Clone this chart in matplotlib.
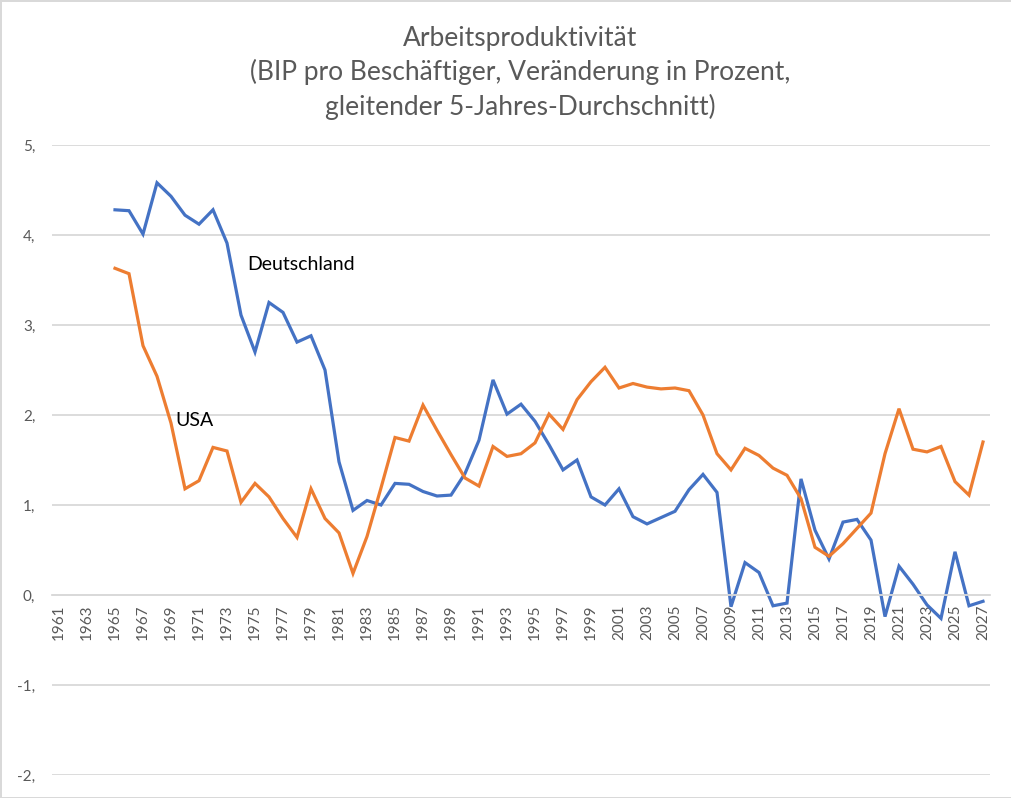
import numpy as np
import matplotlib.pyplot as plt

years = list(range(1961, 2028))
data_years = list(range(1965, 2028))

deutschland = [4.28, 4.27, 4.01, 4.58, 4.43, 4.22, 4.12, 4.28, 3.91, 3.11,
               2.70, 3.25, 3.14, 2.81, 2.88, 2.50, 1.48, 0.94, 1.05, 1.00,
               1.24, 1.23, 1.15, 1.10, 1.11, 1.35, 1.72, 2.39, 2.01, 2.12,
               1.93, 1.67, 1.39, 1.50, 1.09, 1.00, 1.18, 0.87, 0.79, 0.86,
               0.93, 1.17, 1.34, 1.14, -0.13, 0.36, 0.25, -0.12, -0.09, 1.29,
               0.72, 0.40, 0.81, 0.84, 0.61, -0.24, 0.32, 0.12, -0.11, -0.26,
               0.48, -0.12, -0.07]

usa = [3.63, 3.57, 2.77, 2.43, 1.91, 1.18, 1.27, 1.64, 1.60, 1.03,
       1.24, 1.09, 0.85, 0.64, 1.18, 0.85, 0.69, 0.24, 0.65, 1.19,
       1.75, 1.71, 2.11, 1.83, 1.56, 1.30, 1.21, 1.65, 1.54, 1.57,
       1.69, 2.01, 1.84, 2.17, 2.37, 2.53, 2.30, 2.35, 2.31, 2.29,
       2.30, 2.27, 2.00, 1.57, 1.39, 1.63, 1.55, 1.41, 1.33, 1.07,
       0.53, 0.43, 0.57, 0.74, 0.91, 1.57, 2.07, 1.62, 1.59, 1.65,
       1.26, 1.11, 1.70]

title = "Arbeitsproduktivität\n(BIP pro Beschäftiger, Veränderung in Prozent,\ngleitender 5-Jahres-Durchschnitt)"

plt.rcParams['font.family'] = ['Lato', 'DejaVu Sans']

fig = plt.figure(figsize=(10.12, 7.98), dpi=100)
fig.patch.set_edgecolor('#D9D9D9')
fig.patch.set_linewidth(2)
ax = fig.add_axes([52 / 1012, 23 / 798, 938 / 1012, 630 / 798])

# category positions like Excel: one slot per year
pos = {y: i for i, y in enumerate(years)}
xs = [pos[y] for y in data_years]
ax.plot(xs, deutschland, color='#4472C4', lw=2.3, solid_joinstyle='miter')
ax.plot(xs, usa, color='#ED7D31', lw=2.3, solid_joinstyle='miter')

ax.set_xlim(-0.5, len(years) - 0.5)
ax.set_ylim(-2, 5)
ax.set_yticks(range(-2, 6))
ax.set_yticklabels([f"{v}," for v in range(-2, 6)])
ax.yaxis.grid(True, color='#D9D9D9', lw=1.3)
ax.set_axisbelow(True)

for s in ['top', 'right', 'left']:
    ax.spines[s].set_visible(False)
ax.spines['bottom'].set_position(('data', 0))
ax.spines['bottom'].set_color('#D9D9D9')
ax.spines['bottom'].set_linewidth(1.3)

ax.set_xticks(range(0, len(years), 2))
ax.set_xticklabels([str(y) for y in years[::2]])
ax.tick_params(axis='both', length=0, colors='#595959', labelsize=11)
ax.tick_params(axis='x', pad=7, labelrotation=90)
ax.tick_params(axis='y', pad=12)

ax.text(13.43, 3.67, "Deutschland", fontsize=14, color='black', va='center')
ax.text(8.29, 1.94, "USA", fontsize=14, color='black', va='center')

fig.text(0.514, 0.968, title, ha='center', va='top', fontsize=19,
         color='#595959', linespacing=1.4)

fig.savefig('out.png', dpi=100, edgecolor=fig.get_edgecolor())
